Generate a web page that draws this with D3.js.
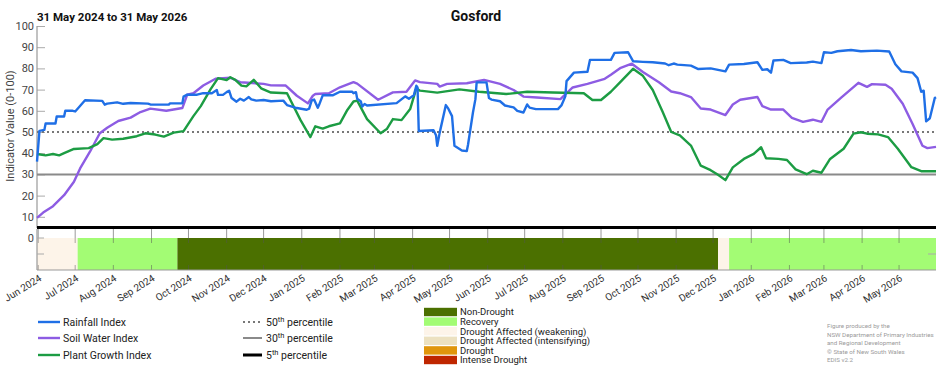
<!DOCTYPE html>
<html><head><meta charset="utf-8">
<script src="https://cdn.jsdelivr.net/npm/d3@7"></script>
<style>
body{margin:0;background:#fff}
svg{display:block;font-family:Roboto,"Liberation Sans",sans-serif}
</style>
</head><body>
<svg id="chart" width="952" height="370"></svg>
<script>
const chartTitle = "Gosford";
const chartSubtitle = "31 May 2024 to 31 May 2026";
const yAxisLabel = "Indicator Value (0-100)";
const yTickValues = [10,20,30,40,50,60,70,80,90,100];
const seriesNames = ["Rainfall Index","Soil Water Index","Plant Growth Index"];
const percentileLabels = ["50","30","5"];
const percentileValues = [50,30,5];
const droughtLabels = ["Non-Drought","Recovery","Drought Affected (weakening)","Drought Affected (intensifying)","Drought","Intense Drought"];
const footerLines = ["Figure produced by the","NSW Department of Primary Industries","and Regional Development","\u00A9 State of New South Wales","EDIS v2.2"];

const rainfall = [["2024-05-31",36],["2024-06-02",50.5],["2024-06-06",51],["2024-06-07",54],["2024-06-15",54],["2024-06-16",57.3],["2024-06-22",57.3],["2024-06-23",60],["2024-06-29",60],["2024-07-01",59.7],["2024-07-03",61],["2024-07-06",63],["2024-07-09",65],["2024-07-23",64.7],["2024-07-25",62.9],["2024-07-27",63.4],["2024-08-04",64],["2024-08-09",63.3],["2024-08-15",63.7],["2024-08-29",63.4],["2024-08-31",63],["2024-09-11",62.9],["2024-09-15",62.9],["2024-09-16",63.5],["2024-09-26",63.5],["2024-09-27",66.7],["2024-09-30",67.6],["2024-10-08",67.6],["2024-10-13",68.3],["2024-10-20",68.3],["2024-10-24",69.8],["2024-10-25",67.5],["2024-10-29",67.5],["2024-11-01",68.8],["2024-11-03",69.5],["2024-11-05",66],["2024-11-09",64.3],["2024-11-12",65.7],["2024-11-15",64.8],["2024-11-19",66.5],["2024-11-21",65.4],["2024-11-25",64.8],["2024-12-01",65.1],["2024-12-07",64.5],["2024-12-17",64.8],["2024-12-20",62.7],["2024-12-28",61.3],["2025-01-05",60.5],["2025-01-07",61],["2025-01-09",64.8],["2025-01-11",65.3],["2025-01-14",61.4],["2025-01-15",62.7],["2025-01-18",67.3],["2025-01-26",67.3],["2025-02-01",69],["2025-02-11",69],["2025-02-12",68.3],["2025-02-14",68.8],["2025-02-15",65.7],["2025-02-18",64.4],["2025-02-19",62],["2025-02-21",63.2],["2025-02-23",62.5],["2025-03-19",63.6],["2025-03-26",66.8],["2025-03-29",65.7],["2025-04-02",67.3],["2025-04-04",71.8],["2025-04-05",71],["2025-04-06",50.5],["2025-04-18",50.8],["2025-04-20",48.5],["2025-04-21",43.5],["2025-04-23",49.7],["2025-04-28",62.7],["2025-04-30",61],["2025-05-03",57.5],["2025-05-05",43.5],["2025-05-11",41.3],["2025-05-15",41],["2025-05-16",44],["2025-05-20",59.2],["2025-05-22",65.5],["2025-05-23",73.4],["2025-05-31",73.4],["2025-06-02",66],["2025-06-04",65.3],["2025-06-11",64.5],["2025-06-15",62.5],["2025-06-22",61.6],["2025-06-25",60],["2025-06-30",59.2],["2025-07-03",63],["2025-07-05",61.5],["2025-07-10",60.8],["2025-07-28",60.8],["2025-07-31",62.7],["2025-08-03",66.8],["2025-08-04",74],["2025-08-10",78],["2025-08-21",78.4],["2025-08-23",84],["2025-09-09",84],["2025-09-12",87.3],["2025-09-23",87.6],["2025-09-27",83.4],["2025-10-05",83.1],["2025-10-13",82.9],["2025-10-23",82.3],["2025-10-26",81.5],["2025-10-30",82.3],["2025-11-02",81.8],["2025-11-13",81.3],["2025-11-19",79.7],["2025-11-29",80],["2025-12-11",78.6],["2025-12-14",81.8],["2025-12-26",82.1],["2026-01-06",82.9],["2026-01-10",79.3],["2026-01-14",79.6],["2026-01-17",78],["2026-01-19",83.7],["2026-01-27",84],["2026-02-02",82.5],["2026-02-15",82.8],["2026-02-20",83.2],["2026-02-27",82.5],["2026-03-01",87.6],["2026-03-07",87.3],["2026-03-12",88.1],["2026-03-23",88.7],["2026-03-31",88.1],["2026-04-13",88.4],["2026-04-23",88],["2026-04-28",82],["2026-05-03",78.6],["2026-05-12",78],["2026-05-16",75.4],["2026-05-19",69],["2026-05-21",69.5],["2026-05-23",55],["2026-05-26",56.5],["2026-05-30",66],["2026-05-31",66.4]];

const soilWater = [["2024-05-31",9.5],["2024-06-05",12],["2024-06-13",15],["2024-06-22",20.2],["2024-06-30",26.5],["2024-07-05",32.8],["2024-07-13",40.7],["2024-07-21",49.4],["2024-07-27",52],["2024-08-05",55.2],["2024-08-15",56.8],["2024-08-23",59.4],["2024-08-31",61],["2024-09-13",60],["2024-09-26",61.3],["2024-09-30",67.6],["2024-10-05",68.3],["2024-10-13",71.9],["2024-10-23",75.1],["2024-11-04",75.6],["2024-11-12",73.5],["2024-12-01",72.7],["2024-12-07",72],["2024-12-19",71.9],["2024-12-28",67.1],["2025-01-06",63.5],["2025-01-10",67.1],["2025-01-12",67.9],["2025-01-23",68.3],["2025-02-01",71.1],["2025-02-12",73.5],["2025-02-15",72.8],["2025-03-04",65.2],["2025-03-16",68.7],["2025-03-27",69],["2025-04-03",74.3],["2025-04-07",73.5],["2025-04-21",72.7],["2025-04-23",71.4],["2025-04-29",72.7],["2025-05-15",73],["2025-05-29",74.6],["2025-06-11",72.7],["2025-06-22",69.8],["2025-06-30",66.7],["2025-07-11",66.3],["2025-07-30",65.5],["2025-08-09",71],["2025-08-21",72.7],["2025-09-04",75.1],["2025-09-09",77],["2025-09-17",80.3],["2025-09-26",82.2],["2025-10-05",78.3],["2025-10-18",73.5],["2025-10-28",69.1],["2025-11-04",68.3],["2025-11-13",66.5],["2025-11-21",61.1],["2025-11-29",60.6],["2025-12-11",58],["2025-12-17",63],["2025-12-23",65.2],["2026-01-06",66.5],["2026-01-10",62.2],["2026-01-17",60.6],["2026-01-27",60.6],["2026-02-03",56.7],["2026-02-12",54.8],["2026-02-20",55.8],["2026-02-27",54.8],["2026-03-04",60.6],["2026-03-15",66.2],["2026-03-29",73.2],["2026-04-05",71.3],["2026-04-09",72.6],["2026-04-20",72.3],["2026-04-25",70.4],["2026-05-04",63.3],["2026-05-12",53.8],["2026-05-20",43.5],["2026-05-24",42.4],["2026-05-31",43]];

const plantGrowth = [["2024-05-31",39.6],["2024-06-07",39],["2024-06-13",39.6],["2024-06-18",39],["2024-06-22",40],["2024-06-30",42],["2024-07-12",42.4],["2024-07-19",44.3],["2024-07-24",47.1],["2024-07-31",46.4],["2024-08-09",46.8],["2024-08-20",48],["2024-08-27",49.4],["2024-09-04",48.8],["2024-09-11",47.8],["2024-09-19",49.7],["2024-09-27",50.4],["2024-10-05",57.5],["2024-10-11",62.2],["2024-10-19",70.2],["2024-10-25",75.4],["2024-11-01",74.5],["2024-11-04",75.8],["2024-11-08",74.6],["2024-11-13",71.9],["2024-11-17",71.5],["2024-11-23",74.6],["2024-11-29",70.6],["2024-12-07",68.6],["2024-12-20",68.3],["2024-12-31",55.6],["2025-01-08",47.6],["2025-01-12",52.7],["2025-01-18",51.6],["2025-01-23",52.7],["2025-02-01",54.1],["2025-02-07",60.4],["2025-02-12",64.4],["2025-02-15",64.8],["2025-02-23",56.1],["2025-03-06",49.4],["2025-03-11",51.4],["2025-03-16",56.1],["2025-03-23",55.6],["2025-03-30",60.8],["2025-04-04",70.6],["2025-04-07",69.5],["2025-04-21",68.6],["2025-05-09",70.1],["2025-05-25",69],["2025-06-16",67.9],["2025-07-03",69],["2025-07-24",68.6],["2025-08-18",68.3],["2025-08-25",65.1],["2025-09-01",65.1],["2025-09-09",69],["2025-09-17",73.8],["2025-09-27",79.8],["2025-10-05",76.5],["2025-10-13",69.8],["2025-10-21",59.5],["2025-10-28",50],["2025-11-04",48.4],["2025-11-13",43.6],["2025-11-21",34.1],["2025-11-29",32],["2025-12-05",29.8],["2025-12-11",27.3],["2025-12-17",33.3],["2025-12-26",37.3],["2026-01-03",39.7],["2026-01-09",42.8],["2026-01-13",37.6],["2026-01-23",37.3],["2026-01-30",36.8],["2026-02-06",32.4],["2026-02-15",30.1],["2026-02-20",31.7],["2026-02-27",30.8],["2026-03-06",37.3],["2026-03-17",42.1],["2026-03-25",49.2],["2026-03-31",49.9],["2026-04-05",49.2],["2026-04-14",48.9],["2026-04-22",47.6],["2026-04-30",42.1],["2026-05-11",33.4],["2026-05-19",31.5],["2026-05-31",31.5]];

const droughtPeriods = [["2024-05-31","2024-07-03","Drought Affected (weakening)"],["2024-07-03","2024-09-22","Recovery"],["2024-09-22","2025-12-05","Non-Drought"],["2025-12-05","2025-12-14","Drought Affected (weakening)"],["2025-12-14","2026-05-31","Recovery"]];

const dateStart = "2024-05-31", dateEnd = "2026-05-31";

// ---- styles ----
const seriesColors = ["#1f6fe6","#8d5ce3","#1c9c43"];
const droughtColors = {"Non-Drought":"#4b7000","Recovery":"#a3fc74","Drought Affected (weakening)":"#fdf4e9","Drought Affected (intensifying)":"#ece1c0","Drought":"#e0960c","Intense Drought":"#bf2600"};
const percentileStyles = [{stroke:"#777",width:2,dash:"2,3"},{stroke:"#8a8a8a",width:2,dash:null},{stroke:"#000",width:3,dash:null}];

const parse = d3.utcParse("%Y-%m-%d");
const svg = d3.select("#chart");
const x = d3.scaleUtc().domain([parse(dateStart), parse(dateEnd)]).range([37, 936]);
const y = d3.scaleLinear().domain([0,100]).range([238, 26]);
const plotLeft = 37, plotRight = 936;

// Title
svg.append("text").attr("x",476).attr("y",21).attr("text-anchor","middle")
  .attr("font-size",14).attr("font-weight","bold").attr("fill","#111").text(chartTitle);
svg.append("text").attr("x",37).attr("y",21).attr("font-size",11.5).attr("font-weight","bold").attr("fill","#111").text(chartSubtitle);

// Y axis
const yAxis = d3.axisRight(y).tickValues(yTickValues).tickSize(8).tickFormat(d3.format("d"));
const gy = svg.append("g").attr("transform",`translate(${plotLeft},0)`).call(yAxis);
gy.select(".domain").remove();
gy.selectAll(".tick line").attr("stroke","#aaa");
gy.selectAll(".tick text").attr("x",-3).attr("text-anchor","end").attr("font-size",11).attr("fill","#444").attr("font-family","Roboto,sans-serif");
svg.append("line").attr("x1",plotLeft).attr("x2",plotLeft).attr("y1",26).attr("y2",228).attr("stroke","#999").attr("stroke-width",1.2);

svg.append("text").attr("transform",`translate(14,126) rotate(-90)`).attr("text-anchor","middle")
  .attr("font-size",11).attr("fill","#444").text(yAxisLabel);

// Percentile lines
percentileValues.forEach((p,i)=>{
  const s = percentileStyles[i];
  svg.append("line").attr("x1",plotLeft).attr("x2",plotRight).attr("y1",y(p)).attr("y2",y(p))
    .attr("stroke",s.stroke).attr("stroke-width",s.width).attr("stroke-dasharray",s.dash);
});

// Series lines
const line = d3.line().x(d=>x(parse(d[0]))).y(d=>y(d[1]));
[soilWater, plantGrowth, rainfall].forEach((data)=>{
  const i = data===rainfall?0:(data===soilWater?1:2);
  svg.append("path").datum(data).attr("d",line).attr("fill","none")
    .attr("stroke",seriesColors[i]).attr("stroke-width",2.4).attr("stroke-linejoin","round");
});

// Lower drought panel
const bandTop = 229, barTop = 238, barBottom = 270;
const months = x.ticks(d3.utcMonth.every(1)).filter(d=>d>=parse("2024-06-01"));
svg.append("g").selectAll("line").data(months).join("line")
  .attr("x1",d=>x(d)).attr("x2",d=>x(d)).attr("y1",bandTop).attr("y2",barBottom)
  .attr("stroke","#9a9a9a").attr("stroke-width",1);
svg.append("g").selectAll("rect").data(droughtPeriods).join("rect")
  .attr("x",d=>x(parse(d[0]))).attr("width",d=>x(parse(d[1]))-x(parse(d[0])))
  .attr("y",barTop).attr("height",barBottom-barTop).attr("fill",d=>droughtColors[d[2]]);
svg.append("g").selectAll("line").data(months).join("line")
  .attr("x1",d=>x(d)).attr("x2",d=>x(d)).attr("y1",barTop).attr("y2",barTop+5)
  .attr("stroke","#555").attr("stroke-opacity",0.5);
svg.append("g").selectAll("line").data(months).join("line")
  .attr("x1",d=>x(d)).attr("x2",d=>x(d)).attr("y1",barBottom-5).attr("y2",barBottom)
  .attr("stroke","#555").attr("stroke-opacity",0.5);
svg.append("line").attr("x1",plotLeft).attr("x2",plotRight).attr("y1",barBottom).attr("y2",barBottom).attr("stroke","#999");
svg.append("line").attr("x1",plotLeft).attr("x2",plotLeft).attr("y1",bandTop).attr("y2",barBottom).attr("stroke","#999").attr("stroke-width",1.2);
svg.append("line").attr("x1",plotLeft).attr("x2",plotLeft+7).attr("y1",barTop).attr("y2",barTop).attr("stroke","#aaa");
svg.append("line").attr("x1",plotLeft).attr("x2",plotLeft+7).attr("y1",254).attr("y2",254).attr("stroke","#aaa");
svg.append("line").attr("x1",plotRight-8).attr("x2",plotRight).attr("y1",254).attr("y2",254).attr("stroke","#aaa");
svg.append("text").attr("x",34).attr("y",barTop+4).attr("text-anchor","end").attr("font-size",11).attr("fill","#444").text("0");

// X axis labels
const fmt = d3.utcFormat("%b %Y");
svg.append("g").selectAll("text").data(months).join("text")
  .attr("transform",d=>`translate(${x(d)+4},${280}) rotate(-32)`)
  .attr("text-anchor","end").attr("font-size",10).attr("fill","#333").text(d=>fmt(d));

// Legend: series
const legRows = [322,338,355];
seriesNames.forEach((n,i)=>{
  svg.append("line").attr("x1",38).attr("x2",60).attr("y1",legRows[i]).attr("y2",legRows[i])
    .attr("stroke",seriesColors[i]).attr("stroke-width",2.4);
  svg.append("text").attr("x",63).attr("y",legRows[i]+4).attr("font-size",10.5).attr("fill","#222").text(n);
});
percentileLabels.forEach((p,i)=>{
  const s = percentileStyles[i];
  svg.append("line").attr("x1",243).attr("x2",262).attr("y1",legRows[i]).attr("y2",legRows[i])
    .attr("stroke",s.stroke).attr("stroke-width",s.width).attr("stroke-dasharray",s.dash);
  const t = svg.append("text").attr("x",266).attr("y",legRows[i]+4).attr("font-size",10.5).attr("fill","#222");
  t.append("tspan").text(p);
  t.append("tspan").attr("dy",-4).attr("font-size",7.5).text("th");
  t.append("tspan").attr("dy",4).text(" percentile");
});
// Legend: drought categories
droughtLabels.forEach((n,i)=>{
  const cy = 312 + i*9.6;
  svg.append("rect").attr("x",424).attr("y",cy-4.2).attr("width",33).attr("height",8.4).attr("fill",droughtColors[n]);
  svg.append("text").attr("x",460).attr("y",cy+3.3).attr("font-size",9.5).attr("fill","#222").text(n);
});

// Footer
footerLines.forEach((t,i)=>{
  svg.append("text").attr("x",827).attr("y",328+i*8.6).attr("font-size",6.2).attr("fill","#9a9a9a").text(t);
});
</script>
</body></html>
